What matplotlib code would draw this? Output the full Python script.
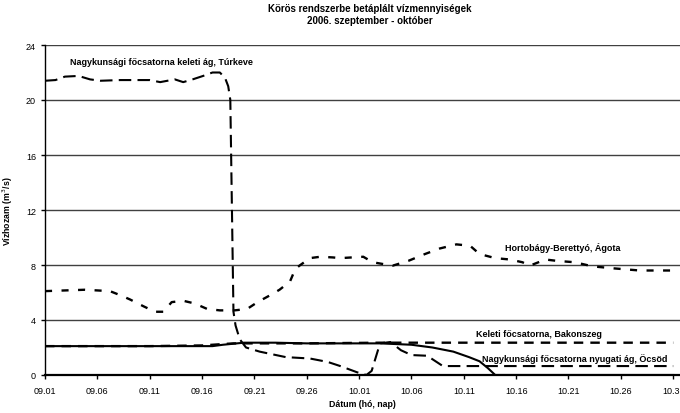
import numpy as np
import matplotlib.pyplot as plt

plt.rcParams['font.family'] = ['Liberation Sans', 'DejaVu Sans']

# day index: 0 = 09.01, 30 = 10.01, 60 = 10.31
tick_days = list(range(0, 61, 5))
tick_labels = ["09.01", "09.06", "09.11", "09.16", "09.21", "09.26", "10.01",
               "10.06", "10.11", "10.16", "10.21", "10.26", "10.31"]

# Nagykunsagi focsatorna keleti ag, Turkeve
turkeve_days = [0, 1, 1.9, 3.2, 4.3, 5.3, 7.2, 10, 11, 12.4, 13.2, 14.1, 15.1, 16, 16.7,
                17.2, 17.5, 17.7, 18.0, 18.2, 18.6, 19.2, 20.5, 23, 25.3, 27, 28.2,
                29.8, 30.7, 31.2, 32, 33, 34, 35, 36.5, 37.3, 38, 45, 52, 60]
turkeve_vals = [21.4, 21.45, 21.7, 21.75, 21.5, 21.4, 21.45, 21.45, 21.3, 21.5, 21.3, 21.5,
                21.75, 22.0, 22.0, 21.6, 21.0, 20.0, 4.6, 3.6, 2.6, 2.0, 1.7, 1.3, 1.2,
                0.95, 0.65, 0.2, 0.0, 0.3, 2.3, 2.4, 1.8, 1.45, 1.4, 1.0, 0.65, 0.65,
                0.65, 0.65]

# Hortobagy-Berettyo, Agota
agota_days = [0, 3.8, 6.2, 7.2, 8.1, 9.4, 10.5, 11.3, 12.1, 13.2, 14.3, 15.5, 16.7, 18.1,
              19.3, 20.3, 21.5, 22.4, 23.4, 23.9, 24.3, 25.3, 26.3, 27.5, 28.2, 30.4,
              31.3, 33.2, 34.7, 36.3, 37.7, 39.3, 40.6, 41.5, 43, 44.4, 45.6, 46.3,
              47.8, 48.9, 50.6, 52.3, 54.4, 56.8, 59.7]
agota_vals = [6.1, 6.2, 6.1, 5.8, 5.5, 5.0, 4.6, 4.6, 5.3, 5.4, 5.2, 4.8, 4.7, 4.7, 4.8,
              5.3, 5.8, 6.2, 6.8, 7.7, 7.95, 8.5, 8.6, 8.55, 8.5, 8.6, 8.2, 7.95, 8.3,
              8.8, 9.2, 9.5, 9.4, 8.8, 8.5, 8.4, 8.2, 7.95, 8.4, 8.3, 8.2, 7.9, 7.75,
              7.6, 7.6]

# Keleti focsatorna, Bakonszeg
bakonszeg_days = [0, 10, 15, 18, 25, 32, 40, 60]
bakonszeg_vals = [2.1, 2.1, 2.15, 2.3, 2.3, 2.35, 2.35, 2.35]

# Nagykunsagi focsatorna nyugati ag, Ocsod
ocsod_days = [0, 16, 17, 19, 22, 25, 32, 35, 37, 39, 40.5, 41.5, 42.3, 43, 60]
ocsod_vals = [2.1, 2.1, 2.2, 2.35, 2.35, 2.3, 2.3, 2.2, 2.0, 1.7, 1.3, 1.0, 0.5, 0.0, 0.0]

series_labels = ["Nagykunsági főcsatorna keleti ág, Túrkeve", "Hortobágy-Berettyó, Ágota",
                 "Keleti főcsatorna, Bakonszeg", "Nagykunsági főcsatorna nyugati ág, Öcsöd"]

fig = plt.figure(figsize=(6.8, 4.14), dpi=100)
ax = fig.add_axes([45 / 680, 1 - 376 / 414, 1 - 45 / 680, (376 - 46) / 414])

ax.set_ylim(0, 24)
ax.set_xlim(0, 60.65)
ax.set_yticks(range(0, 25, 4))
ax.set_xticks(tick_days)
ax.set_xticklabels(tick_labels)
ax.yaxis.grid(True, color="#404040", linewidth=1.0)
ax.set_axisbelow(True)

ax.plot(ocsod_days, ocsod_vals, color="black", linewidth=1.5, zorder=3)
ax.plot(bakonszeg_days, bakonszeg_vals, color="black", linewidth=1.7,
        dashes=(4, 3), zorder=3)
ax.plot(agota_days, agota_vals, color="black", linewidth=1.7, dashes=(3, 4), zorder=3)
ax.plot(turkeve_days, turkeve_vals, color="black", linewidth=1.5, dashes=(6, 3), zorder=3)

lab = dict(fontsize=6.5, fontweight="bold", color="black")
ax.text(2.4, 22.8, series_labels[0], va="center", ha="left", **lab)
ax.text(43.9, 9.3, series_labels[1], va="center", ha="left", **lab)
ax.text(41.2, 3.0, series_labels[2], va="center", ha="left", **lab)
ax.text(41.7, 1.25, series_labels[3], va="center", ha="left", clip_on=False, **lab)

for s in ["top", "right"]:
    ax.spines[s].set_visible(False)
ax.spines["bottom"].set_linewidth(1.6)
ax.spines["left"].set_linewidth(1.0)
ax.tick_params(axis="both", labelsize=6.5, length=3, width=1.0)
ax.tick_params(axis="x", pad=5)

ax.set_ylabel("Vízhozam (m$^3$/s)", fontsize=6.3, fontweight="bold", labelpad=8)
ax.set_xlabel("Dátum (hó, nap)", fontsize=6.3, fontweight="bold", labelpad=3)

fig.text(0.544, 0.978, "Körös rendszerbe betáplált vízmennyiségek", ha="center",
         va="center", fontsize=7, fontweight="bold")
fig.text(0.544, 0.950, "2006. szeptember - október", ha="center", va="center",
         fontsize=7, fontweight="bold")

fig.savefig("out.png", dpi=100)
